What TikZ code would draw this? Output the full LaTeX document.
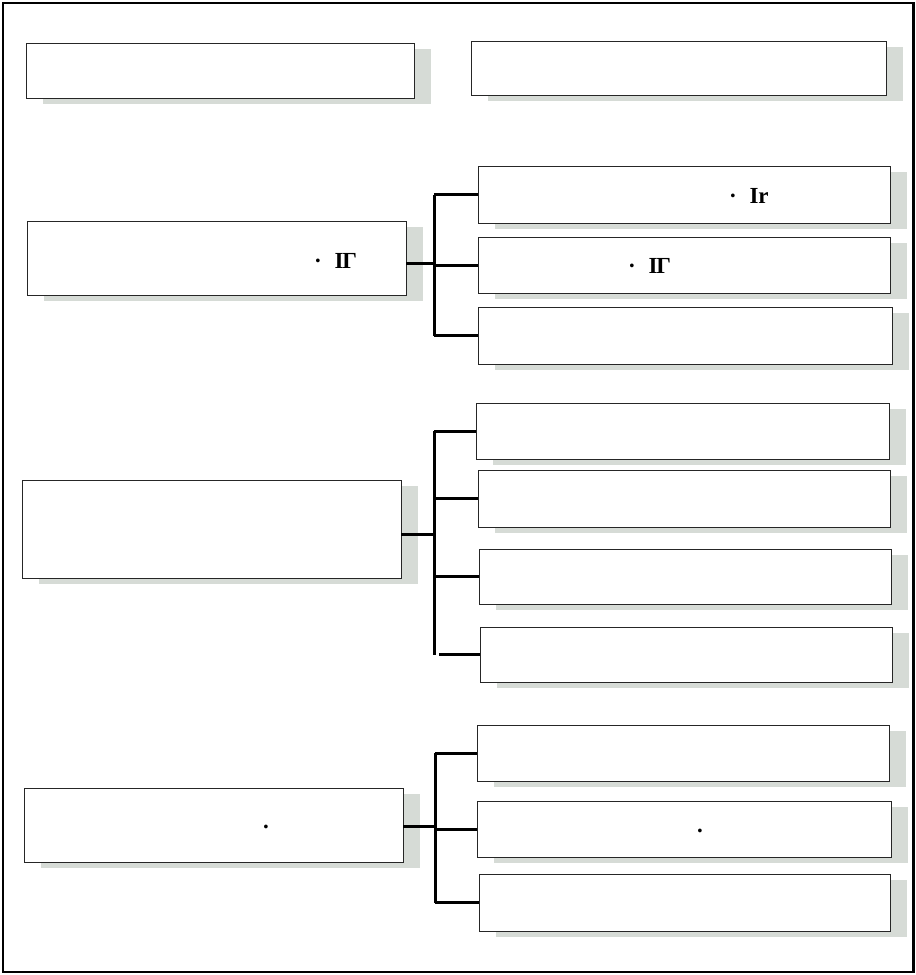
\documentclass[tikz,border=0pt]{standalone}
\usepackage{fontspec}
\setmainfont{Liberation Serif}
\usetikzlibrary{shadows, calc}
\definecolor{shadowgray}{RGB}{214,219,214}

\begin{document}
\begin{tikzpicture}[
  x=1pt, y=-1pt,
  boxnode/.style  = {draw=black!85, line width=1pt, fill=white,
                     inner sep=0pt, outer sep=0pt,
                     drop shadow={shadow xshift=17pt, shadow yshift=-6pt,
                                  fill=shadowgray, opacity=1}},
  leftbox/.style  = {boxnode, minimum width=379pt},
  rightbox/.style = {boxnode, minimum width=412pt, minimum height=56pt},
  lbl/.style      = {font=\fontsize{23}{27}\selectfont\bfseries,
                     inner sep=0pt},
  conn/.style     = {line width=3pt},
]

\useasboundingbox (0,0) rectangle (916,975);
\draw[line width=2.5pt] (3,3) rectangle (913.5,972);

% =============================================
% HEADER ROW
% =============================================
\node[boxnode, minimum width=388pt, minimum height=55pt] (headl) at (220,70.5) {};
\node[boxnode, minimum width=415pt, minimum height=54pt] (headr) at (678.5,68) {};

% =============================================
% GROUP 1
% =============================================
\node[leftbox, minimum height=74pt] (grpa) at (216.5,258) {};
\node[rightbox, minimum height=57pt] (suba1) at (684,194.5) {};
\node[rightbox]                      (suba2) at (684,265) {};
\node[rightbox, minimum width=414pt, minimum height=57pt] (suba3) at (685,335.5) {};

\node[lbl, anchor=base west] (grpatxt)  at (314,268) {·\hspace{0.55em}I\kern-1pt Γ};
\node[lbl, anchor=base west] (suba1txt) at (729,203) {·\hspace{0.55em}Ir};
\node[lbl, anchor=base west] (suba2txt) at (628,273) {·\hspace{0.55em}I\kern-1pt Γ};

% =============================================
% GROUP 2
% =============================================
\node[leftbox, minimum height=98pt] (grpb) at (211.5,529) {};
\node[rightbox, minimum width=413pt] (subb1) at (682.5,431) {};
\node[rightbox, minimum height=57pt] (subb2) at (684,498.5) {};
\node[rightbox, minimum height=55pt] (subb3) at (685,576.5) {};
\node[rightbox, minimum height=55pt] (subb4) at (686,654.5) {};

% =============================================
% GROUP 3
% =============================================
\node[leftbox, minimum height=74pt] (grpc) at (213.5,825) {};
\node[rightbox]                      (subc1) at (683,753) {};
\node[rightbox, minimum width=414pt] (subc2) at (684,829) {};
\node[rightbox, minimum width=411pt, minimum height=57pt] (subc3) at (684.5,902.5) {};

\node[lbl] (grpctxt)  at (266,827) {.};
\node[lbl] (subc2txt) at (700,831) {.};

% =============================================
% CONNECTORS
% =============================================
\coordinate (ja) at (434,263);
\draw[conn] (grpa.east |- ja) -- (ja);
\draw[conn] (ja |- suba1.west) -- (ja |- suba3.west);
\foreach \n in {suba1, suba2, suba3}
  \draw[conn] (ja |- \n.west) -- (\n.west);

\coordinate (jb) at (434,534);
\draw[conn] (grpb.east |- jb) -- (jb);
\draw[conn] (jb |- subb1.west) -- (jb |- subb4.west);
\foreach \n in {subb1, subb2, subb3}
  \draw[conn] (jb |- \n.west) -- (\n.west);
\path (jb |- subb4.west) coordinate (jb4);
\draw[conn] ([xshift=5pt]jb4) -- (subb4.west);

\coordinate (jc) at (435,826);
\draw[conn] (grpc.east |- jc) -- (jc);
\draw[conn] (jc |- subc1.west) -- (jc |- subc3.west);
\foreach \n in {subc1, subc2, subc3}
  \draw[conn] (jc |- \n.west) -- (\n.west);

\end{tikzpicture}
\end{document}
